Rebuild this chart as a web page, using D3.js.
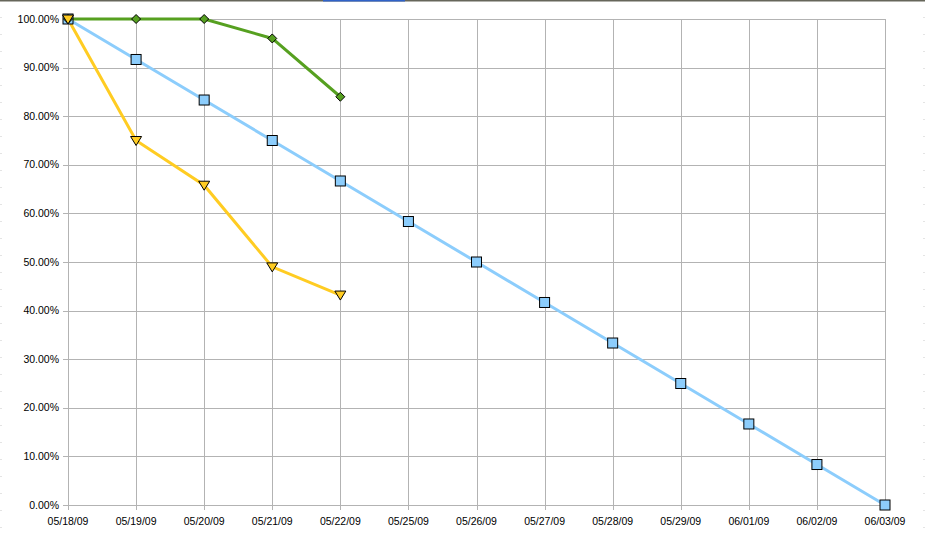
<!DOCTYPE html>
<html><head><meta charset="utf-8">
<script src="https://cdn.jsdelivr.net/npm/d3@7"></script>
<style>html,body{margin:0;padding:0;background:#fff;overflow:hidden}</style>
</head><body>
<svg id="c" width="925" height="538"></svg>
<script>
const categories = ["05/18/09","05/19/09","05/20/09","05/21/09","05/22/09","05/25/09","05/26/09","05/27/09","05/28/09","05/29/09","06/01/09","06/02/09","06/03/09"];
const idealValues = [100, 91.67, 83.33, 75, 66.67, 58.33, 50, 41.67, 33.33, 25, 16.67, 8.33, 0];
const greenValues = [100, 100, 100, 96, 84];
const yellowValues = [100, 75, 65.8, 49, 43.2];
const yTicks = [0,10,20,30,40,50,60,70,80,90,100];

(function(){
const svg = d3.select("#c");
const pLeft = 68, pRight = 885, pTop = 19, pBottom = 505;
const x = d3.scalePoint().domain(categories).range([pLeft, pRight]);
const y = d3.scaleLinear().domain([0, 100]).range([pBottom, pTop]);

// top border and edge dots
svg.append("rect").attr("x",0).attr("y",0).attr("width",925).attr("height",1.5).attr("fill","#66665a");
svg.append("rect").attr("x",323).attr("y",0).attr("width",82).attr("height",1.5).attr("fill","#2f62c8");
for (let yy = 17; yy < 538; yy += 17) {
  svg.append("rect").attr("x",0.5).attr("y",yy).attr("width",1).attr("height",1).attr("fill","#c8c8c8");
  svg.append("rect").attr("x",923.5).attr("y",yy).attr("width",1).attr("height",1).attr("fill","#c8c8c8");
}

const g = svg.append("g");
g.selectAll(".hg").data(yTicks).enter().append("line")
  .attr("x1", pLeft - 5).attr("x2", pRight).attr("y1", d => Math.round(y(d)) + 0.5).attr("y2", d => Math.round(y(d)) + 0.5)
  .attr("stroke", "#b3b3b3").attr("stroke-width", 1);
g.selectAll(".vg").data(categories).enter().append("line")
  .attr("x1", d => Math.round(x(d)) + 0.5).attr("x2", d => Math.round(x(d)) + 0.5)
  .attr("y1", pTop).attr("y2", pBottom + 5)
  .attr("stroke", "#b3b3b3").attr("stroke-width", 1);

g.selectAll(".yl").data(yTicks).enter().append("text")
  .attr("x", pLeft - 9).attr("y", d => y(d) + 3.5)
  .attr("text-anchor", "end").attr("font-family", "Liberation Sans, Arial, sans-serif")
  .attr("font-size", "10.5px").attr("fill", "#000")
  .text(d => d.toFixed(2) + "%");
g.selectAll(".xl").data(categories).enter().append("text")
  .attr("x", d => x(d)).attr("y", pBottom + 20)
  .attr("text-anchor", "middle").attr("font-family", "Liberation Sans, Arial, sans-serif")
  .attr("font-size", "10.5px").attr("fill", "#000")
  .text(d => d);

const line = d3.line().x(d => x(d.c)).y(d => y(d.v));
function series(vals) { return vals.map((v, i) => ({c: categories[i], v})); }
const ideal = series(idealValues), green = series(greenValues), yellow = series(yellowValues);

g.append("path").datum(ideal).attr("d", line).attr("fill", "none").attr("stroke", "#8ccdfc").attr("stroke-width", 3);
g.append("path").datum(green).attr("d", line).attr("fill", "none").attr("stroke", "#56a020").attr("stroke-width", 3);
g.append("path").datum(yellow).attr("d", line).attr("fill", "none").attr("stroke", "#ffcc22").attr("stroke-width", 3);

g.selectAll(".sq").data(ideal).enter().append("rect")
  .attr("x", d => x(d.c) - 5).attr("y", d => y(d.v) - 5).attr("width", 10).attr("height", 10)
  .attr("fill", "#8ccdfc").attr("stroke", "#000").attr("stroke-width", 1);
g.selectAll(".dm").data(green).enter().append("path")
  .attr("d", d => { const cx = x(d.c), cy = y(d.v), r = 4.5; return `M${cx},${cy-r}L${cx+r},${cy}L${cx},${cy+r}L${cx-r},${cy}Z`; })
  .attr("fill", "#56a020").attr("stroke", "#000").attr("stroke-width", 1);
g.selectAll(".tr").data(yellow).enter().append("path")
  .attr("d", d => { const cx = x(d.c), cy = y(d.v); return `M${cx-5.5},${cy-4}L${cx+5.5},${cy-4}L${cx},${cy+5}Z`; })
  .attr("fill", "#ffcc22").attr("stroke", "#000").attr("stroke-width", 1);
})();
</script>
</body></html>
